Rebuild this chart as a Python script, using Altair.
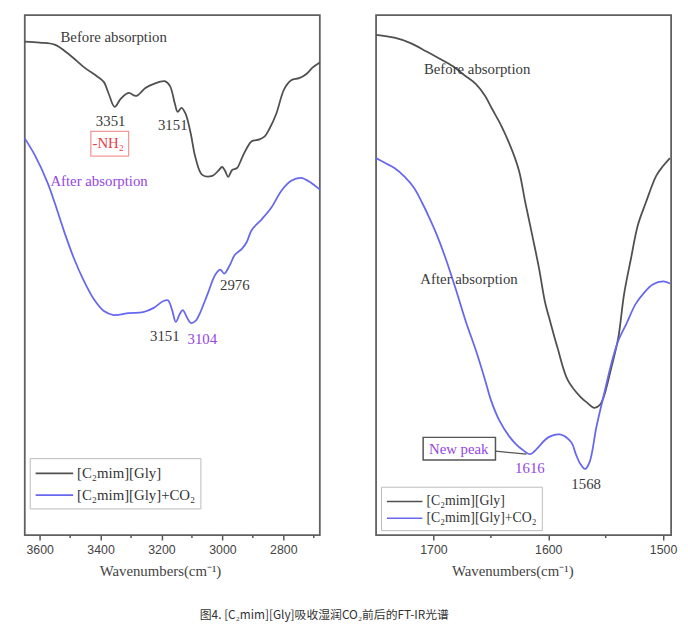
import altair as alt
import pandas as pd

# ---------------- data ----------------
S1 = "[C₂mim][Gly]"
S2 = "[C₂mim][Gly]+CO₂"

# Left panel (3650 - 2680 cm-1)
L_WN_BEFORE = [3649, 3600, 3551, 3503, 3454, 3412, 3389, 3373, 3354, 3334, 3308, 3283, 3253, 3227,
               3189, 3172, 3156, 3147, 3134, 3121, 3104, 3088, 3066, 3033, 3014, 3001, 2991, 2981,
               2968, 2952, 2936, 2920, 2904, 2878, 2861, 2845, 2823, 2797, 2774, 2748, 2725, 2703, 2680]
L_T_BEFORE = [500, 499, 497, 487, 474, 465, 459, 447, 434, 442, 448, 445, 453, 457,
              460, 455, 437, 429, 433, 427, 407, 382, 365, 364, 369, 373, 369, 363,
              370, 372, 382, 392, 399, 401, 404, 412, 427, 452, 461, 463, 467, 474, 479]
L_WN_AFTER = [3649, 3616, 3574, 3551, 3519, 3487, 3454, 3422, 3389, 3357, 3308, 3260, 3227,
              3195, 3179, 3166, 3153, 3140, 3130, 3117, 3104, 3088, 3075, 3049, 3023, 3007,
              2994, 2975, 2959, 2936, 2920, 2904, 2871, 2839, 2806, 2774, 2742, 2709, 2680]
L_T_AFTER = [402, 385, 357, 337, 307, 280, 257, 239, 227, 223, 225, 226, 230,
             237, 238, 229, 216, 224, 228, 221, 215, 217, 224, 244, 264, 269,
             265, 274, 284, 290, 297, 309, 320, 332, 349, 359, 362, 357, 350]

# Right panel (1750 - 1493 cm-1)
R_WN_BEFORE = [1750, 1734, 1721, 1706, 1695, 1683, 1673, 1663, 1655, 1649, 1641, 1634, 1629, 1625,
               1620, 1614, 1608, 1603, 1598, 1592, 1583, 1572, 1566, 1560, 1555, 1552, 1545, 1539,
               1534, 1528, 1522, 1515, 1506, 1500, 1494]
R_T_BEFORE = [507, 504, 499, 490, 483, 475, 466, 457, 445, 432, 415, 397, 382, 367,
              337, 304, 270, 237, 215, 190, 157, 140, 134, 129, 132, 139, 170, 200,
              244, 280, 314, 337, 364, 374, 382]
R_WN_AFTER = [1750, 1742, 1734, 1725, 1717, 1710, 1703, 1697, 1689, 1680, 1672, 1663, 1655,
              1650, 1643, 1634, 1628, 1623, 1616, 1612, 1608, 1600, 1590, 1580, 1576, 1572,
              1568, 1564, 1558, 1552, 1545, 1539, 1532, 1524, 1517, 1509, 1500, 1494]
R_T_AFTER = [382, 377, 372, 363, 352, 337, 320, 304, 279, 247, 217, 187, 157,
             137, 117, 100, 92, 87, 82, 85, 90, 99, 102, 94, 82, 72,
             67, 74, 110, 140, 174, 197, 214, 234, 245, 254, 257, 255]

L_MAJOR = [3600, 3400, 3200, 3000, 2800]
L_MINOR = [3500, 3300, 3100, 2900, 2700]
R_MAJOR = [1700, 1600, 1500]
R_MINOR = [1650, 1550]

# annotations: (text, wavenumber, T)
L_DARK = [("Before absorption", 3357, 505), ("3351", 3367, 420), ("3151", 3163, 415),
          ("2976", 2959, 253), ("3151", 3189, 202)]
L_PURPLE = [("After absorption", 3405, 359), ("3104", 3066, 199)]
L_RED = [("-NH₂", 3375, 397)]
L_RED_BOX = [(3432, 3308, 409, 384)]

R_DARK = [("Before absorption", 1662, 472), ("After absorption", 1669, 259), ("1568", 1567, 52)]
R_PURPLE = [("New peak", 1678, 87), ("1616", 1616, 68)]
R_BOX = [(1709, 1646, 99, 76)]
R_CONNECT = [(1646, 1619, 85, 82)]

CAPTION = "图4. [C₂mim][Gly]吸收湿润CO₂前后的FT-IR光谱"

# ---------------- styling ----------------
DARK_LINE = "#505050"
BLUE_LINE = "#6868ee"
TEXT_DARK = "#3a3a3a"
PURPLE = "#9445e6"
RED = "#e8404a"
SERIF = "Liberation Serif"
W, H = 299, 527


def lines_df(wb, tb, wa, ta):
    a = pd.DataFrame({"wn": wb, "T": tb, "series": S1})
    b = pd.DataFrame({"wn": wa, "T": ta, "series": S2})
    return pd.concat([a, b], ignore_index=True)


def make_panel(df, domain, majors, minors, dark, purple, red, redbox, box, connect,
               title_x, legend_y, legend_font, sym_scale, row_pad):
    axis = alt.Axis(values=majors, format="d", tickSize=5, tickWidth=1.5, tickColor="#555",
                    domain=False, grid=False, labelFont="Liberation Sans", labelFontSize=12.5,
                    labelColor="#444", labelPadding=4, title="Wavenumbers(cm⁻¹)",
                    titleFont=SERIF, titleFontSize=15, titleColor="#444", titleFontWeight="normal",
                    titleX=title_x, titleY=36, titleAlign="center", titleBaseline="middle")
    xs = alt.Scale(domain=domain, nice=False, zero=False)
    ys = alt.Scale(domain=[0, 527], nice=False, zero=False)

    def X():
        return alt.X("wn:Q", scale=xs, axis=axis)

    def Y():
        return alt.Y("T:Q", scale=ys, axis=None)

    sym_size = (2 * sym_scale) ** 2
    layers = []
    line = alt.Chart(df).mark_line(strokeWidth=1.8, interpolate="catmull-rom").encode(
        x=X(), y=Y(),
        color=alt.Color("series:N",
                        scale=alt.Scale(domain=[S1, S2], range=[DARK_LINE, BLUE_LINE]),
                        legend=alt.Legend(title=None, orient="none", legendX=5, legendY=legend_y,
                                          symbolType="M-1,0H3", symbolSize=sym_size,
                                          symbolStrokeWidth=1.6, labelFont=SERIF,
                                          labelFontSize=legend_font, labelColor="#333",
                                          strokeColor="#bbb", fillColor="white", padding=5,
                                          rowPadding=row_pad, labelOffset=2 * sym_scale + 3,
                                          offset=0)),
        detail="series:N",
    )
    layers.append(line)

    minor_df = pd.DataFrame({"wn": minors})
    layers.append(alt.Chart(minor_df).mark_rule(color="#555", strokeWidth=1.5).encode(
        x=X(), y=alt.value(H), y2=alt.value(H + 3)))

    if box:
        bdf = pd.DataFrame(box, columns=["wn", "wn2", "T", "T2"])
        layers.append(alt.Chart(bdf).mark_rect(fill="white", stroke="#555", strokeWidth=1.5).encode(
            x=X(), x2="wn2:Q", y=Y(), y2="T2:Q"))
    if connect:
        cdf = pd.DataFrame(connect, columns=["wn", "wn2", "T", "T2"])
        layers.append(alt.Chart(cdf).mark_rule(color="#555", strokeWidth=1.3).encode(
            x=X(), x2="wn2:Q", y=Y(), y2="T2:Q"))
    if redbox:
        rdf = pd.DataFrame(redbox, columns=["wn", "wn2", "T", "T2"])
        layers.append(alt.Chart(rdf).mark_rect(filled=False, stroke="#f29a9a", strokeWidth=1.3).encode(
            x=X(), x2="wn2:Q", y=Y(), y2="T2:Q"))

    for items, col in ((dark, TEXT_DARK), (purple, PURPLE), (red, RED)):
        if not items:
            continue
        tdf = pd.DataFrame(items, columns=["text", "wn", "T"])
        layers.append(alt.Chart(tdf).mark_text(font=SERIF, fontSize=15, color=col,
                                               baseline="middle", align="center").encode(
            x=X(), y=Y(), text="text:N"))

    return alt.layer(*layers).properties(width=W, height=H)


left = make_panel(lines_df(L_WN_BEFORE, L_T_BEFORE, L_WN_AFTER, L_T_AFTER), [3649, 2680],
                  L_MAJOR, L_MINOR, L_DARK, L_PURPLE, L_RED, L_RED_BOX, None, None,
                  137, 449, 15, 9.5, 3)
right = make_panel(lines_df(R_WN_BEFORE, R_T_BEFORE, R_WN_AFTER, R_T_AFTER), [1750, 1493],
                   R_MAJOR, R_MINOR, R_DARK, R_PURPLE, None, None, R_BOX, R_CONNECT,
                   138, 478, 14, 9, 0)

chart = alt.hconcat(left, right, spacing=57, bounds="flush").resolve_scale(
    color="independent", x="independent"
).properties(
    title=alt.TitleParams(text=CAPTION, orient="bottom", anchor="middle",
                          font="Noto Sans CJK SC", fontSize=12, fontWeight="normal",
                          color="#333", offset=31, dx=-25),
    padding={"left": 12, "top": 2, "right": 2, "bottom": 0},
).configure_view(stroke="#606060", strokeWidth=1.8)

chart.save("out.html", embed_options={"renderer": "svg", "actions": False})
